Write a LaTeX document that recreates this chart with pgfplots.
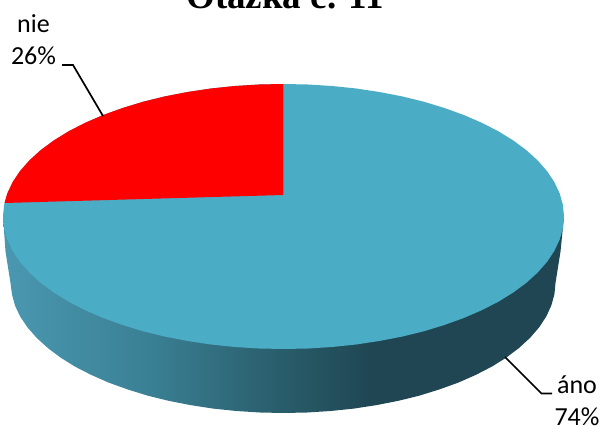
\documentclass[border=0pt]{standalone}
\usepackage{pgfplots}
\pgfplotsset{compat=1.18}
\usepackage{fontspec}
\setmainfont{Carlito}
\newfontfamily\titlefont{Liberation Serif}
\definecolor{top}{RGB}{75,172,198}
\definecolor{sa}{RGB}{74,152,177}
\definecolor{sb}{RGB}{58,128,148}
\definecolor{sc}{RGB}{41,92,106}
\definecolor{sd}{RGB}{31,70,82}
\pgfdeclarehorizontalshading{sideshade}{100bp}{color(0bp)=(sa); color(25bp)=(sa); color(38bp)=(sb); color(50bp)=(sc); color(58bp)=(sd); color(100bp)=(sd)}
\begin{document}
\begin{tikzpicture}[x=1pt,y=1pt]
\begin{axis}[
  at={(0,0)},anchor=south west,
  scale only axis,width=605pt,height=428pt,
  xmin=-283.5,xmax=321.5,ymin=-211.5,ymax=216.5,
  hide axis,clip=false,
  every axis plot/.append style={no markers,forget plot},
]
% side of the disc
\addplot[draw=none,shading=sideshade] coordinates {
(-280.5,0)(-278,-35)(-273,-66.5)(-271.5,-77.9)(-268.5,-89.1)(-263.3,-100.1)(-256,-110.9)(-246.8,-121.4)(-235.7,-131.5)(-222.9,-141.1)(-208.5,-150.1)(-192.3,-158.4)(-174.8,-166.1)(-156,-172.9)(-136,-179.1)(-115,-184.3)(-93,-188.6)(-70.4,-192.1)(-47.2,-194.5)(-23.8,-196)(0,-196.5)
(23.8,-196)(47.2,-194.5)(70.4,-192.1)(93,-188.6)(115,-184.3)(136,-179.1)(156,-172.9)(174.8,-166.1)(192.3,-158.4)(208.4,-150.1)(222.8,-141.1)(235.5,-131.5)(246.5,-121.4)(255.6,-110.9)(262.7,-100.1)(267.8,-89.1)(270.9,-77.9)(272,-66.5)(277,-35)(280.5,0)
} --cycle;
% top: áno 74 %
\addplot[draw=none,fill=top] coordinates {
(280.5,0)(279.4,11.6)(276.2,23)(270.9,34.3)(263.6,45.3)(254.2,56)(242.9,66.3)(229.8,76)(214.9,85.2)(198.3,93.7)(180.3,101.5)(160.9,108.5)(140.3,114.8)(118.6,120.1)(95.9,124.5)(72.6,128)(48.7,130.5)(24.5,132)(0,132.5)
(-24.5,132)(-48.7,130.5)(-72.6,128)(-95.9,124.5)(-118.6,120.1)(-140.3,114.8)(-160.9,108.5)(-180.3,101.5)(-198.3,93.7)(-214.9,85.2)(-229.8,76)(-242.9,66.3)(-254.2,56)(-263.6,45.3)(-270.9,34.3)(-276.2,23)(-279.4,11.6)(-280.5,0)
(-279.4,-11.6)(-276.2,-23)(-270.9,-34.3)(-263.6,-45.3)(-254.2,-56)(-242.9,-66.3)(-229.8,-76)(-214.9,-85.2)(-198.3,-93.7)(-180.3,-101.5)(-160.9,-108.5)(-140.3,-114.8)(-118.6,-120.1)(-95.9,-124.5)(-72.6,-128)(-48.7,-130.5)(-24.5,-132)(0,-132.5)
(24.5,-132)(48.7,-130.5)(72.6,-128)(95.9,-124.5)(118.6,-120.1)(140.3,-114.8)(160.9,-108.5)(180.3,-101.5)(198.3,-93.7)(214.9,-85.2)(229.8,-76)(242.9,-66.3)(254.2,-56)(263.6,-45.3)(270.9,-34.3)(276.2,-23)(279.4,-11.6)
} --cycle;
% top: nie 26 %
\addplot[draw=none,fill=red] coordinates {
(-0.2,21.5)(-0.2,132.5)(-24.5,132)(-48.7,130.5)(-72.6,128)(-95.9,124.5)(-118.6,120.1)(-140.3,114.8)(-160.9,108.5)(-180.3,101.5)(-198.3,93.7)(-214.9,85.2)(-229.8,76)(-242.9,66.3)(-254.2,56)(-263.6,45.3)(-270.9,34.3)(-276.2,23)(-279,13.5)
} --cycle;
% leader lines
\addplot[black,line width=1.7pt] coordinates {(-221.5,151.5)(-210.5,151.5)(-180.5,100.5)};
\addplot[black,line width=1.7pt] coordinates {(221.5,-140.5)(258,-177)(268.5,-177)};
% texts
\node[anchor=base,font=\fontsize{26}{30}\selectfont] at (axis cs:-250,183.5) {nie};
\node[anchor=base,font=\fontsize{26}{30}\selectfont] at (axis cs:-250,151.5) {26\%};
\node[anchor=base,font=\fontsize{26}{30}\selectfont] at (axis cs:293.5,-177.5) {áno};
\node[anchor=base,font=\fontsize{26}{30}\selectfont] at (axis cs:293.5,-209) {74\%};
\node[anchor=base,font=\fontsize{37}{44}\selectfont\titlefont\bfseries] at (axis cs:1.5,207.5) {Otázka č. 11};
\end{axis}
\pgfresetboundingbox
\path[use as bounding box] (0,0) rectangle (605pt,428pt);
\end{tikzpicture}
\end{document}
